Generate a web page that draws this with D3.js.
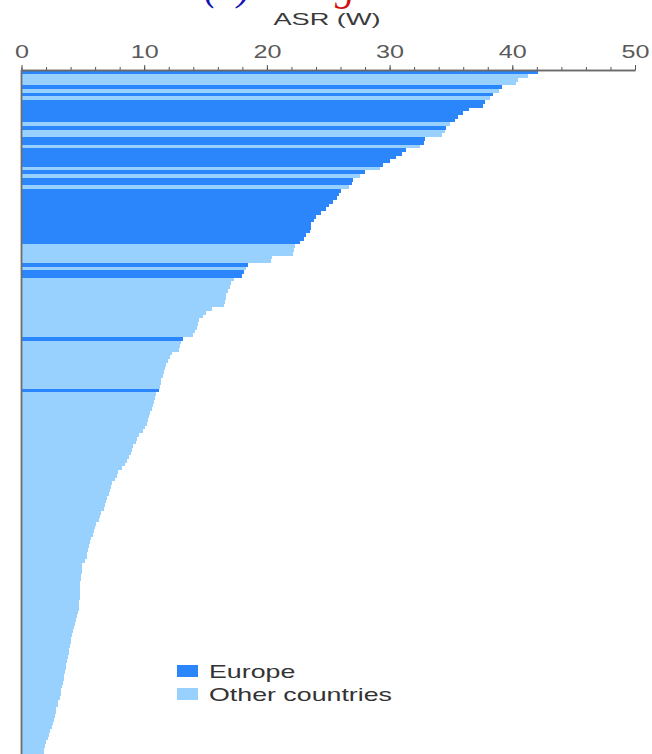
<!DOCTYPE html>
<html>
<head>
<meta charset="utf-8">
<script src="https://cdn.jsdelivr.net/npm/d3@7"></script>
<style>
  html, body { margin: 0; padding: 0; background: #fff; }
  svg { display: block; }
</style>
</head>
<body>
<script>
// Age-standardised rate (world) per country, ranked from highest to lowest
const asrValues = [
  42.1, 41.3, 40.5, 40.3, 39.2, 38.9, 38.4, 38.2, 37.8, 37.6,
  36.5, 36.0, 35.6, 35.3, 34.9, 34.6, 34.5, 34.3, 32.9, 32.8,
  32.5, 31.3, 31.0, 30.5, 30.0, 29.5, 29.2, 28.0, 27.6, 27.0,
  26.9, 26.7, 26.0, 25.9, 25.7, 25.4, 25.1, 24.8, 24.4, 24.0,
  23.8, 23.6, 23.6, 23.5, 23.2, 23.0, 22.7, 22.3, 22.2, 22.1,
  20.4, 20.3, 18.5, 18.3, 18.1, 18.0, 17.3, 17.1, 17.0, 16.8,
  16.7, 16.7, 16.6, 16.5, 15.5, 15.0, 14.8, 14.5, 14.4, 14.3,
  14.1, 14.0, 13.2, 13.0, 12.9, 12.8, 12.3, 12.1, 11.9, 11.8,
  11.7, 11.6, 11.5, 11.4, 11.4, 11.3, 11.2, 11.0, 10.9, 10.8,
  10.7, 10.6, 10.5, 10.4, 10.3, 10.2, 10.1, 9.9, 9.6, 9.4,
  9.3, 9.1, 9.0, 8.9, 8.8, 8.6, 8.4, 8.2, 7.9, 7.8,
  7.6, 7.4, 7.3, 7.2, 7.1, 7.0, 6.9, 6.8, 6.7, 6.5,
  6.4, 6.3, 6.1, 6.0, 5.9, 5.8, 5.7, 5.6, 5.5, 5.4,
  5.35, 5.3, 5.2, 4.95, 4.9, 4.9, 4.85, 4.85, 4.8, 4.8,
  4.8, 4.75, 4.75, 4.7, 4.7, 4.65, 4.6, 4.5, 4.45, 4.35,
  4.3, 4.2, 4.1, 4.05, 4.0, 3.95, 3.9, 3.85, 3.75, 3.7,
  3.65, 3.6, 3.55, 3.5, 3.45, 3.4, 3.3, 3.25, 3.2, 3.1,
  3.0, 2.95, 2.85, 2.8, 2.7, 2.65, 2.55, 2.45, 2.35, 2.25,
  2.2, 2.0, 1.9, 1.85, 1.8
];

// Ranks (0-based positions in asrValues) held by European countries
const europeRanks = [
  0, 4, 6, 8, 9, 10, 11, 12, 13, 15, 18, 19, 21, 22, 23, 24, 25, 27, 29, 30,
  32, 33, 34, 35, 36, 37, 38, 39, 40, 41, 42, 43, 44, 45, 46, 52, 54, 55, 72, 86
];

const majorTicks = [0, 10, 20, 30, 40, 50];
const minorTicks = [0, 2, 4, 6, 8, 10, 12, 14, 16, 18, 20, 22, 24, 26, 28, 30,
                    32, 34, 36, 38, 40, 42, 44, 46, 48, 50];
const legendLabels = ["Europe", "Other countries"];
const groupColors = ["#2b86fb", "#98d1fd"];

const W = 652, H = 754;
const FONT = "'Liberation Sans', Arial, Helvetica, sans-serif";

const svg = d3.select("body").append("svg")
  .attr("width", W).attr("height", H);

const x = d3.scaleLinear().domain([0, 50]).range([21.5, 635]);
const y = d3.scaleBand()
  .domain(d3.range(asrValues.length))
  .range([70.5, 755])
  .padding(0);

const color = d3.scaleOrdinal().domain(legendLabels).range(groupColors);
const groupOf = i => europeRanks.includes(i) ? legendLabels[0] : legendLabels[1];

// Panel heading (only its lower edge shows above the axis title)
const heading = svg.append("text")
  .attr("x", 204).attr("y", 0)
  .style("font-family", "'Liberation Serif', 'Times New Roman', serif")
  .style("font-style", "italic")
  .style("font-size", "40px");
heading.append("tspan").attr("fill", "#1414b4").text("(b)");
heading.append("tspan").attr("fill", "#d01010").attr("dx", 22).text("Lung");

// Bars
svg.append("g")
  .attr("shape-rendering", "crispEdges")
  .selectAll("rect")
  .data(asrValues)
  .join("rect")
  .attr("x", x(0))
  .attr("y", (d, i) => y(i))
  .attr("width", d => x(d) - x(0))
  .attr("height", y.bandwidth())
  .attr("fill", (d, i) => color(groupOf(i)));

// Top axis: minor ticks every 2 units, labelled major ticks every 10
const axisY = 70;
const minorAxis = svg.append("g")
  .attr("transform", `translate(0,${axisY})`)
  .call(d3.axisTop(x).tickValues(minorTicks).tickSize(3).tickSizeOuter(0).tickFormat(""));
const majorAxis = svg.append("g")
  .attr("transform", `translate(0,${axisY})`)
  .call(d3.axisTop(x).tickValues(majorTicks).tickSize(5).tickSizeOuter(0).tickPadding(7).tickFormat(d3.format("d")));

[minorAxis, majorAxis].forEach(g => {
  g.select(".domain").attr("stroke", "#6a6a6a").attr("stroke-width", 1.5);
  g.selectAll(".tick line").attr("stroke", "#555").attr("stroke-width", 1);
});
majorAxis.selectAll(".tick text")
  .attr("fill", "#5a5a5a")
  .attr("transform", "scale(1.4,1)")
  .style("font-family", FONT)
  .style("font-size", "18px");

// Axis title
svg.append("text")
  .attr("transform", "translate(327,25) scale(1.7,1)")
  .attr("text-anchor", "middle")
  .attr("fill", "#3a3a3a")
  .style("font-family", FONT)
  .style("font-size", "16px")
  .text("ASR (W)");

// Left baseline
svg.append("line")
  .attr("x1", x(0)).attr("x2", x(0))
  .attr("y1", axisY).attr("y2", H)
  .attr("stroke", "#6e6e6e")
  .attr("stroke-width", 1.8);

// Legend
const legend = svg.append("g").attr("transform", "translate(177,665)");
const item = legend.selectAll("g")
  .data(legendLabels)
  .join("g")
  .attr("transform", (d, i) => `translate(0,${i * 23})`);
item.append("rect")
  .attr("width", 21).attr("height", 12)
  .attr("fill", d => color(d));
item.append("text")
  .attr("transform", "translate(32,12.5) scale(1.53,1)")
  .attr("fill", "#333")
  .style("font-family", FONT)
  .style("font-size", "17.5px")
  .text(d => d);
</script>
</body>
</html>
